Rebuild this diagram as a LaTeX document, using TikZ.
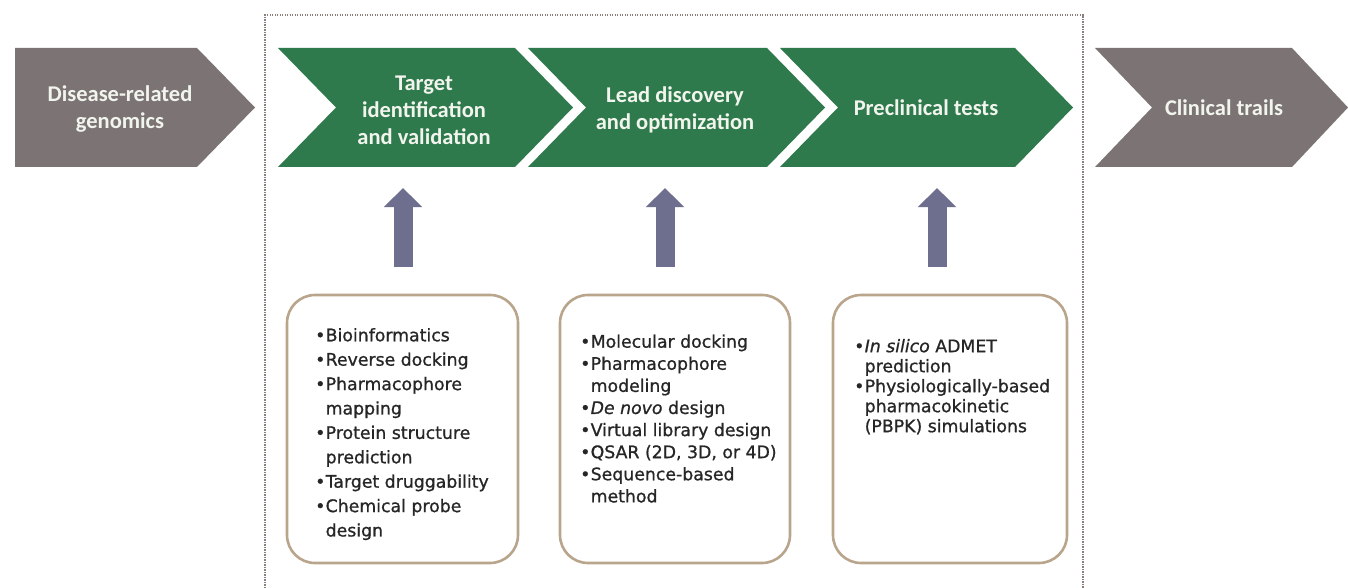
\documentclass[tikz,border=0pt]{standalone}
\usepackage{fontspec}
\setmainfont{DejaVu Sans}
\newfontfamily\chevfont{Carlito}
% list text: DejaVu Sans with a slightly thickened stroke
\newfontfamily\listfont{DejaVu Sans}[
  BoldFont={DejaVu Sans}, BoldFeatures={FakeBold=0.9},
  BoldItalicFont={DejaVu Sans Oblique}, BoldItalicFeatures={FakeBold=0.9}]
\usetikzlibrary{arrows.meta}

\definecolor{stagegreen}{HTML}{2E7A4C}
\definecolor{stagegray}{HTML}{7C7474}
\definecolor{liftcol}{HTML}{6E6E8E}
\definecolor{boxrim}{HTML}{B9A58C}
\definecolor{framecol}{HTML}{8A7F7A}
\definecolor{chevtext}{HTML}{F2F4EE}
\definecolor{listcol}{HTML}{262626}

% bullet cell of the method lists
\newcommand\bul{\makebox[10.5pt][l]{•}}

\tikzset{
  stagelabel/.style={align=center, inner sep=0pt, text=chevtext,
    font=\chevfont\bfseries\fontsize{22.5}{27}\selectfont},
  listbox/.style={draw=boxrim, line width=2.6pt, fill=white,
    rounded corners=28pt, inner sep=0pt},
  listtext/.style={anchor=north west, inner sep=0pt, text=listcol,
    font=\listfont\bfseries},
  liftarrow/.style={draw=liftcol, line width=19pt,
    -{Triangle[width=37pt,length=19pt]}},
  framestyle/.style={draw=framecol, line width=1.3pt,
    dash pattern=on 1.3pt off 1.2pt}
}

\begin{document}
\begin{tikzpicture}[x=1pt,y=-1pt]
\useasboundingbox (0,0) rectangle (1348,588);
\fill[white] (0,0) rectangle (1348,588);

% dotted frame round the computational stages
\draw[framestyle] (265,588) -- (265,15) -- (1083,15) -- (1083,588);

% pipeline chevrons
\fill[stagegray]  (15,48) -- (197,48) -- (255,107.5) -- (197,167) -- (15,167) -- cycle;
\fill[stagegreen] (278,48) -- (515,48) -- (573,107.5) -- (515,167) -- (278,167) -- (336,107.5) -- cycle;
\fill[stagegreen] (528,48) -- (767,48) -- (825,107.5) -- (767,167) -- (528,167) -- (586,107.5) -- cycle;
\fill[stagegreen] (780,48) -- (1015,48) -- (1073,107.5) -- (1015,167) -- (780,167) -- (838,107.5) -- cycle;
\fill[stagegray]  (1095,48) -- (1292,48) -- (1348,107.5) -- (1292,167) -- (1095,167) -- (1152,107.5) -- cycle;

\node[stagelabel] (genomics) at (120,109) {Disease-related\\genomics};
\node[stagelabel] (target)   at (424,110) {Target\\identification\\and validation};
\node[stagelabel] (lead)     at (675,110) {Lead discovery\\and optimization};
\node[stagelabel] (preclin)  at (926,108) {Preclinical tests};
\node[stagelabel] (clinical) at (1224,108) {Clinical trails};

% method boxes
\node[listbox, minimum width=231pt, minimum height=268pt] (b1) at (402.5,429) {};
\node[listbox, minimum width=230pt, minimum height=268pt] (b2) at (675,429) {};
\node[listbox, minimum width=234pt, minimum height=268pt] (b3) at (950,429) {};

\node[listtext] (b1list) at (315,324) {\fontsize{17.3}{24.4}\selectfont
  \begin{tabular}{@{}l@{}l@{}}
  \bul & Bioinformatics\\
  \bul & Reverse docking\\
  \bul & Pharmacophore\\
       & mapping\\
  \bul & Protein structure\\
       & prediction\\
  \bul & Target druggability\\
  \bul & Chemical probe\\
       & design
  \end{tabular}};

\node[listtext] (b2list) at (580,332) {\fontsize{17.3}{22.1}\selectfont
  \begin{tabular}{@{}l@{}l@{}}
  \bul & Molecular docking\\
  \bul & Pharmacophore\\
       & modeling\\
  \bul & \textit{De novo} design\\
  \bul & Virtual library design\\
  \bul & QSAR (2D, 3D, or 4D)\\
  \bul & Sequence-based\\
       & method
  \end{tabular}};

\node[listtext] (b3list) at (854,338) {\fontsize{17.3}{20}\selectfont
  \begin{tabular}{@{}l@{}l@{}}
  \bul & \textit{In silico} ADMET\\
       & prediction\\
  \bul & Physiologically-based\\
       & pharmacokinetic\\
       & (PBPK) simulations
  \end{tabular}};

% arrows lifting each method box into its stage
\coordinate (a1s) at (403,267);  \coordinate (a1e) at (403,188);
\coordinate (a2s) at (665,267);  \coordinate (a2e) at (665,188);
\coordinate (a3s) at (937,267);  \coordinate (a3e) at (937,188);
\draw[liftarrow] (a1s) -- (a1e);
\draw[liftarrow] (a2s) -- (a2e);
\draw[liftarrow] (a3s) -- (a3e);
\end{tikzpicture}
\end{document}
